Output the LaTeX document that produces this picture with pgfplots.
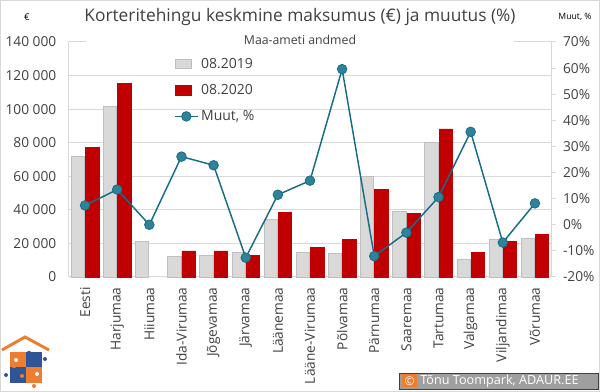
\documentclass[border=0pt]{standalone}
\usepackage{pgfplots}
\pgfplotsset{compat=1.18}
\usepackage{fontspec}
\setmainfont{Open Sans}
\definecolor{barg}{RGB}{217,217,217}
\definecolor{bargedge}{RGB}{191,191,191}
\definecolor{barr}{RGB}{192,0,0}
\definecolor{teal1}{RGB}{24,108,134}
\definecolor{tealm}{RGB}{46,131,152}
\definecolor{txt}{RGB}{64,64,64}
\definecolor{gridc}{RGB}{217,217,217}
\definecolor{orng}{RGB}{237,125,49}
\definecolor{blu}{RGB}{47,85,151}
\begin{document}
\begin{tikzpicture}
\path[use as bounding box] (0,0) rectangle (450pt,294pt);
% ---- bars, left axis
\begin{axis}[
  at={(51.75pt,86.25pt)}, anchor=south west,
  scale only axis, width=361.5pt, height=176.25pt,
  xmin=-0.5, xmax=14.5, ymin=0, ymax=140000,
  ybar=0.75pt, bar width=10pt,
  xtick={0,...,14},
  xticklabels={Eesti,Harjumaa,Hiiumaa,Ida-Virumaa,Jõgevamaa,Järvamaa,Läänemaa,Lääne-Virumaa,Põlvamaa,Pärnumaa,Saaremaa,Tartumaa,Valgamaa,Viljandimaa,Võrumaa},
  xticklabel style={rotate=90, anchor=east, font=\fontsize{10.3}{12}\selectfont, text=txt},
  ytick={0,20000,40000,60000,80000,100000,120000,140000},
  yticklabels={0,20 000,40 000,60 000,80 000,100 000,120 000,140 000},
  scaled y ticks=false,
  yticklabel style={font=\fontsize{10.3}{12}\selectfont, text=txt, xshift=-6pt},
  axis y line*=left, axis x line*=bottom,
  axis line style={draw=gridc, line width=0.75pt},
  major tick style={draw=none},
  ymajorgrids, grid style={draw=gridc, line width=0.75pt},
  clip=false,
]
\addplot[fill=barg, draw=bargedge, line width=0.5pt] coordinates {
(0,72100) (1,101900) (2,21400) (3,12500) (4,13100) (5,14700) (6,34500) (7,14700)
(8,14100) (9,59800) (10,38900) (11,80000) (12,10500) (13,22600) (14,23200)};
\addplot[fill=barr, draw=barr, line width=0.5pt] coordinates {
(0,77300) (1,115400) (3,15500) (4,15500) (5,13100) (6,38300) (7,17500)
(8,22400) (9,52200) (10,38100) (11,88200) (12,14500) (13,21000) (14,25200)};
\end{axis}
% ---- line, right axis
\begin{axis}[
  at={(51.75pt,86.25pt)}, anchor=south west,
  scale only axis, width=361.5pt, height=176.25pt,
  xmin=-0.5, xmax=14.5, ymin=-20, ymax=70,
  axis y line*=right, axis x line=none,
  ytick={-20,-10,0,10,20,30,40,50,60,70},
  yticklabels={-20\%,-10\%,0\%,10\%,20\%,30\%,40\%,50\%,60\%,70\%},
  yticklabel style={font=\fontsize{10.3}{12}\selectfont, text=txt, xshift=2pt},
  axis line style={draw=gridc, line width=0.75pt},
  tick align=outside, major tick length=3.5pt,
  major tick style={draw=gridc, line width=0.75pt},
  legend style={at={(0.215,0.95)}, anchor=north west, draw=none, fill=none,
    font=\fontsize{10.5}{12}\selectfont, text=txt, row sep=6.5pt, inner sep=1pt},
  legend cell align=left,
  clip=false,
]
\addlegendimage{legend image code/.code={\draw[fill=barg,draw=bargedge,line width=0.5pt] (0pt,-3.5pt) rectangle (12pt,3.5pt);}}
\addlegendimage{legend image code/.code={\draw[fill=barr,draw=barr] (0pt,-3.5pt) rectangle (12pt,3.5pt);}}
\addplot[teal1, line width=1.1pt, mark=*, mark size=3.6pt,
  mark options={fill=tealm, draw=teal1, line width=0.6pt}] coordinates {
(0,7.4) (1,13.5) (2,0) (3,26.1) (4,22.8) (5,-12.6) (6,11.5) (7,16.9)
(8,59.6) (9,-12.0) (10,-3.0) (11,10.6) (12,35.6) (13,-6.8) (14,8.2)};
\legend{08.2019,08.2020,{Muut, \%}}
\end{axis}
% ---- decorations in px coordinates
\begin{scope}[x=0.75pt,y=-0.75pt,shift={(0pt,294pt)}]
\fill[white] (86,37) rectangle (514,46.5);
\node[text=txt, font=\fontsize{9.2}{11}\selectfont] at (300,40) {Maa-ameti andmed};
\node[text=txt, font=\fontsize{13}{15}\selectfont] at (300,17) {Korteritehingu keskmine maksumus (€) ja muutus (\%)};
\node[text=black, font=\fontsize{7}{8}\selectfont] at (27,17) {€};
\node[text=black, font=\fontsize{6.5}{8}\selectfont] at (575,17) {Muut, \%};
% logo
\draw[orng, line width=2.2pt, line join=miter] (2,350) -- (25,337) -- (49,350);
\fill[orng] (10,352) rectangle (26,367);
\fill[blu] (26,352) rectangle (42,367);
\fill[blu] (10,367) rectangle (26,383);
\fill[orng] (26,367) rectangle (42,383);
\fill[blu] (29,353) circle (2.2);
\fill[orng] (14,366) circle (2.2);
\fill[blu] (45,359) circle (2);
\fill[white] (16,360) circle (2);
\fill[white] (37,374) circle (2);
\fill[blu] (6,375) circle (2);
\fill[orng] (34,386) circle (2);
\fill[orng] (22,376) circle (2);
% copyright box
\fill[gray!75!black!60!white, draw=black!75] (399,373) rectangle (598,389);
\fill[orng] (402,374.5) rectangle (417,387.5);
\node[text=white, font=\fontsize{9}{10}\selectfont, inner sep=0pt] at (409.5,381) {©};
\node[text=white, font=\fontsize{9.5}{11}\selectfont, anchor=west, inner sep=0pt] at (420,381.5) {Tõnu Toompark, ADAUR.EE};
% frame
\draw[gridc, line width=0.75pt] (0.5,0.5) rectangle (599.5,391.5);
\end{scope}
\end{tikzpicture}
\end{document}
